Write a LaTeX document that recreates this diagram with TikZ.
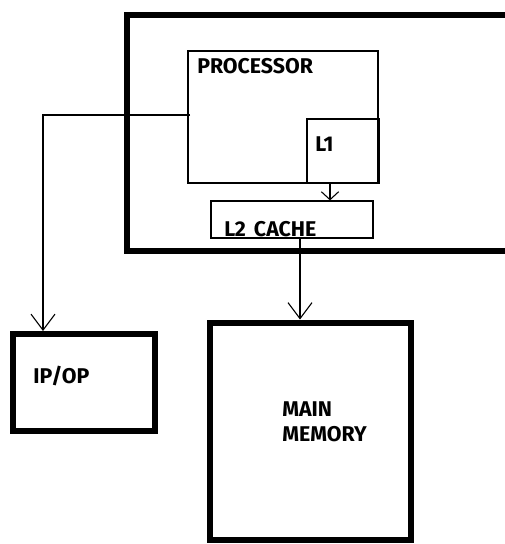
\documentclass[tikz,border=0pt]{standalone}
\usepackage{fontspec}
\setmainfont{Fira Sans}
\usetikzlibrary{fit,arrows.meta,calc}
\begin{document}
\begin{tikzpicture}[x=0.75pt,y=-0.75pt,
  thickbox/.style={draw,line width=4.5pt,inner sep=0pt},
  thinbox/.style={draw,line width=0.9pt,inner sep=0pt},
  midbox/.style={draw,line width=1.5pt,inner sep=0pt},
  lbl/.style={font=\fontsize{16}{18}\selectfont\bfseries,inner sep=0pt,anchor=base west},
  conn/.style={line width=0.8pt},
  bigarr/.style={conn,-{Straight Barb[length=12pt,width=18pt,line width=0.8pt]}},
  smallarr/.style={conn,-{Straight Barb[length=6pt,width=13pt,line width=0.8pt]}}
]
\useasboundingbox (0,0) rectangle (505,544);
\fill[white] (0,0) rectangle (505,544);
\begin{scope}
  \clip (0,0) rectangle (505,544);
  \node[thickbox, fit={(127,15)(560,250.5)}] (outer) {};
\end{scope}
% processor and caches
\node[thinbox, fit={(188,51)(378,183)}] (proc) {};
\node[midbox, fit={(307,119)(379,183)}] (l1) {};
\node[thinbox, fit={(211,201)(373,238)}] (l2) {};
% io and memory
\node[thickbox, fit={(13,334)(155,431)}] (iop) {};
\node[thickbox, fit={(210,322.5)(411,540)}] (mm) {};
% labels
\node[lbl] (tproc) at (197,73) {PROCESSOR};
\node[lbl] (tl1) at (315,151) {L1};
\node[lbl] (tl2) at (224,236) {L2\hspace{6pt}CACHE};
\node[lbl] (tio) at (33,383) {IP/OP};
\node[lbl] (tmain) at (282,416) {MAIN};
\node[lbl] (tmem) at (282,441) {MEMORY};
% connectors
\coordinate (pL) at (190,115);
\coordinate (ioT) at (43,331);
\draw[bigarr] (pL) -| (ioT);
\draw[smallarr] (330,0 |- l1.south) -- (330,0 |- l2.north);
\draw[bigarr] (300,0 |- l2.south) -- (300,0 |- mm.north);
\end{tikzpicture}
\end{document}
